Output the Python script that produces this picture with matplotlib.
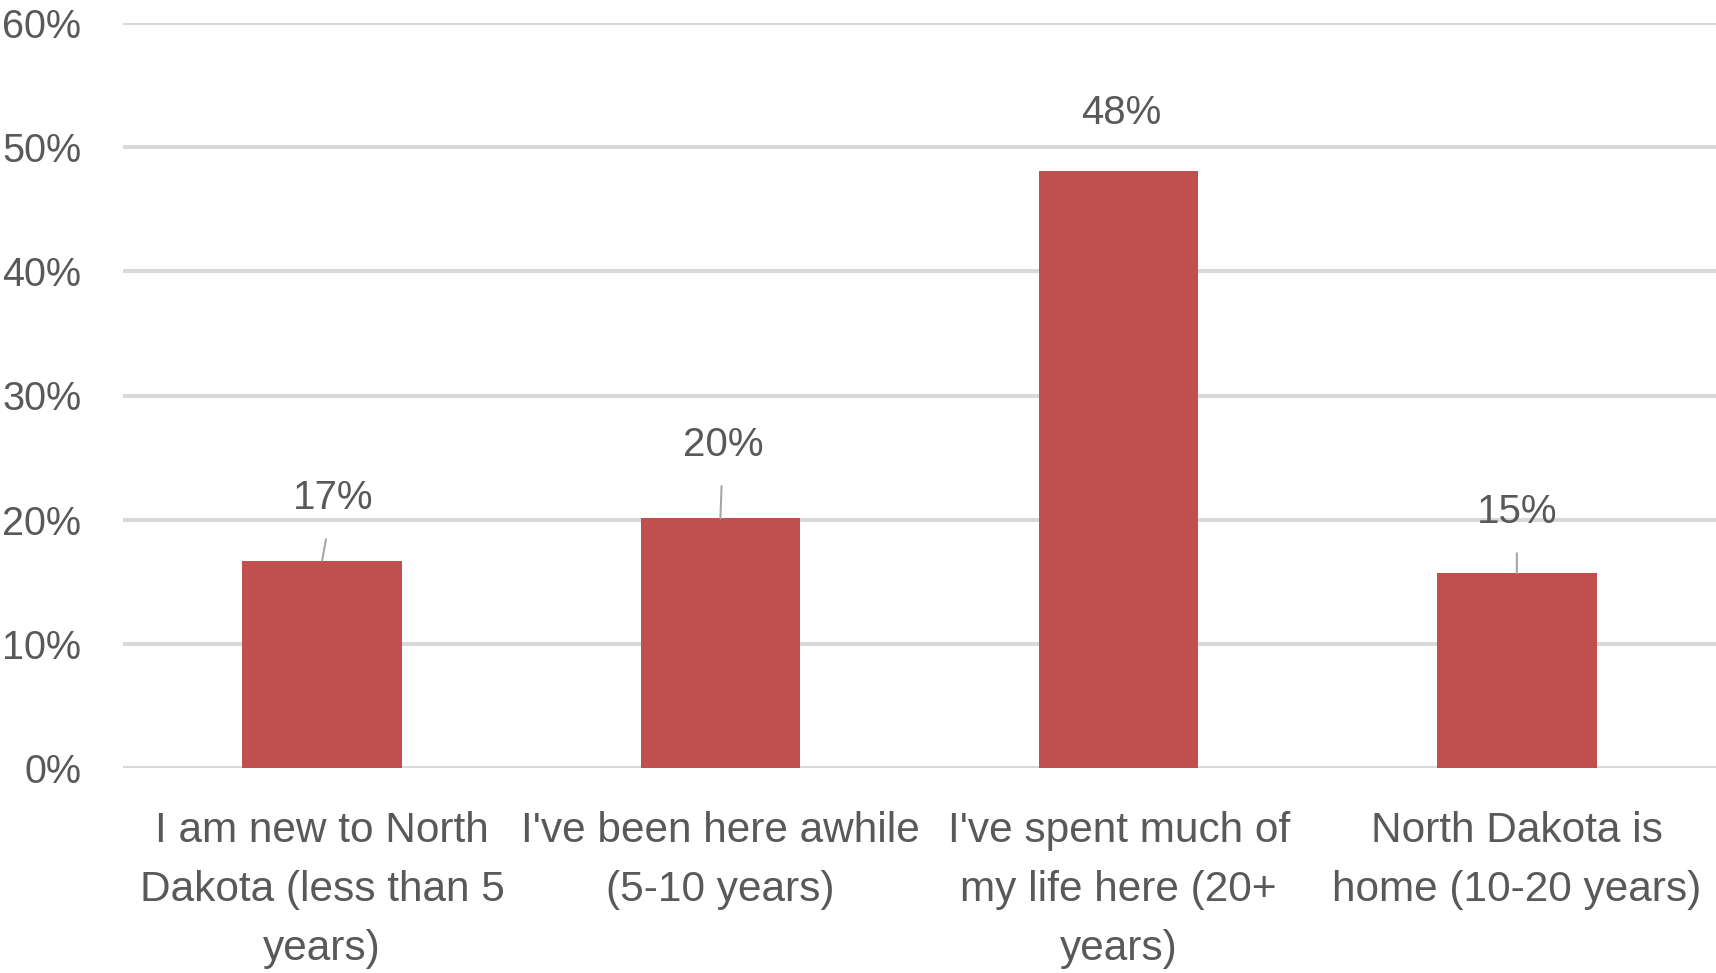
import matplotlib
matplotlib.use("Agg")
import matplotlib.pyplot as plt
from matplotlib.ticker import FuncFormatter

categories = [
    "I am new to North\nDakota (less than 5\nyears)",
    "I've been here awhile\n(5-10 years)",
    "I've spent much of\nmy life here (20+\nyears)",
    "North Dakota is\nhome (10-20 years)",
]
values = [16.7, 20.1, 48.1, 15.7]
value_labels = ["17%", "20%", "48%", "15%"]
yticks = [0, 10, 20, 30, 40, 50, 60]

# label offsets (points) relative to bar top centre, and whether a leader line shows
label_offsets = [(8, 37), (2, 45), (2, 34), (0, 36)]
leaders = [True, True, False, True]

FONT = ["Liberation Sans", "DejaVu Sans"]
TEXT_COLOR = "#595959"
BAR_COLOR = "#C0504D"
GRID_COLOR = "#D9D9D9"

fig = plt.figure(figsize=(17.16, 9.73), dpi=100)
ax = fig.add_axes([123 / 1716, 1 - 768 / 973, 1 - 123 / 1716, (768 - 23) / 973])

x = list(range(len(categories)))
ax.bar(x, values, width=0.40, color=BAR_COLOR, zorder=3)

ax.set_xlim(-0.5, len(categories) - 0.5)
ax.set_ylim(0, 60)
ax.set_yticks(yticks)
ax.yaxis.set_major_formatter(FuncFormatter(lambda v, p: f"{int(v)}%"))
ax.set_xticks(x)
ax.set_xticklabels(categories, fontsize=30.5, family=FONT,
                   color=TEXT_COLOR, linespacing=1.62)
for lab in ax.get_yticklabels():
    lab.set_family(FONT)
    lab.set_fontsize(28.5)
    lab.set_color(TEXT_COLOR)

ax.tick_params(axis="y", length=0, pad=30)
ax.tick_params(axis="x", length=0, pad=31)
for s in ax.spines.values():
    s.set_visible(False)
ax.grid(axis="y", color=GRID_COLOR, linewidth=2.9, zorder=0)
ax.set_axisbelow(True)

for xi, v, lab, (dx, dy), ld in zip(x, values, value_labels, label_offsets, leaders):
    props = dict(arrowstyle="-", color="#A6A6A6", lw=1.5, shrinkA=14, shrinkB=0) if ld else None
    ax.annotate(lab, xy=(xi, v), xytext=(dx, dy), textcoords="offset points",
                ha="center", va="baseline", fontsize=29, family=FONT,
                color=TEXT_COLOR, zorder=4, arrowprops=props)

fig.savefig("out.png", dpi=100, facecolor="white")
